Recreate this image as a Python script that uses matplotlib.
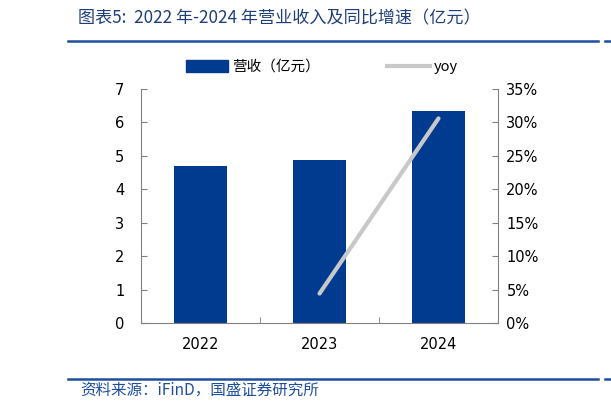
import matplotlib
matplotlib.use("Agg")
import matplotlib.pyplot as plt
from matplotlib.lines import Line2D
from matplotlib.patches import Patch
import numpy as np

plt.rcParams['font.family'] = ['Noto Sans CJK SC', 'DejaVu Sans']

years = ["2022", "2023", "2024"]
revenue = [4.70, 4.88, 6.35]
yoy_years = ["2023", "2024"]
yoy = [4.4, 30.6]

bar_color = "#003B90"
line_color = "#C8C8C8"
title_color = "#1F3F7A"
rule_color = "#1F4E9F"

fig = plt.figure(figsize=(6.11, 4.09), dpi=100)
ax = fig.add_axes([141/611, 1-323/409, (498-141)/611, (323-89)/409])
x = np.arange(len(years))
ax.bar(x, revenue, width=0.44, color=bar_color, zorder=2)
ax.set_xlim(-0.5, len(years)-0.5)
ax.set_ylim(0, 7)
ax.set_yticks(range(0, 8))
ax.set_xticks(x)
ax.set_xticklabels(years, family=['DejaVu Sans'])
ax.set_xticks(np.arange(-0.5, len(years)), minor=True)
ax.tick_params(axis='x', which='major', length=0, pad=10, labelsize=10.5)
ax.tick_params(axis='x', which='minor', direction='in', length=4, color='#808080')
ax.tick_params(axis='y', direction='in', length=4, color='#808080', labelsize=10.5, pad=12)
for lab in ax.get_yticklabels():
    lab.set_family(['DejaVu Sans'])
for s in ['top', 'right']:
    ax.spines[s].set_visible(False)
for s in ['left', 'bottom']:
    ax.spines[s].set_color('#808080')

ax2 = ax.twinx()
xi = [years.index(y) for y in yoy_years]
ax2.plot(xi, yoy, color=line_color, lw=3, solid_capstyle='round', zorder=3)
ax2.set_ylim(0, 35)
ax2.set_yticks(range(0, 40, 5))
ax2.set_yticklabels([f"{v}%" for v in range(0, 40, 5)], family=['DejaVu Sans'])
ax2.tick_params(axis='y', direction='in', length=4, color='#808080', labelsize=10.5, pad=6)
for s in ['top', 'left', 'bottom']:
    ax2.spines[s].set_visible(False)
ax2.spines['right'].set_color('#808080')

handles = [Patch(color=bar_color), Line2D([0], [0], color=line_color, lw=3)]
fig.legend(handles, ["营收（亿元）", "yoy"], loc='center', bbox_to_anchor=(0.527, 1-67/409),
           ncol=2, frameon=False, fontsize=10.5, handlelength=2.9, handleheight=0.9,
           columnspacing=4.6, handletextpad=0.3)

fig.text(78/611, 1-18/409, "图表5:  2022 年-2024 年营业收入及同比增速（亿元）",
         fontsize=12.3, color=title_color, style='italic', va='center', ha='left')
fig.add_artist(Line2D([68/611, 598/611], [1-41/409, 1-41/409], color=rule_color, lw=1.8))
fig.add_artist(Line2D([605/611, 611/611], [1-41/409, 1-41/409], color=rule_color, lw=1.8))
fig.add_artist(Line2D([68/611, 598/611], [1-379/409, 1-379/409], color=rule_color, lw=1.8))
fig.add_artist(Line2D([605/611, 611/611], [1-379/409, 1-379/409], color=rule_color, lw=1.8))
fig.text(80/611, 1-390/409, "资料来源：iFinD，国盛证券研究所",
         fontsize=11.2, color=rule_color, style='italic', va='center', ha='left')

fig.savefig("out.png", dpi=100)
